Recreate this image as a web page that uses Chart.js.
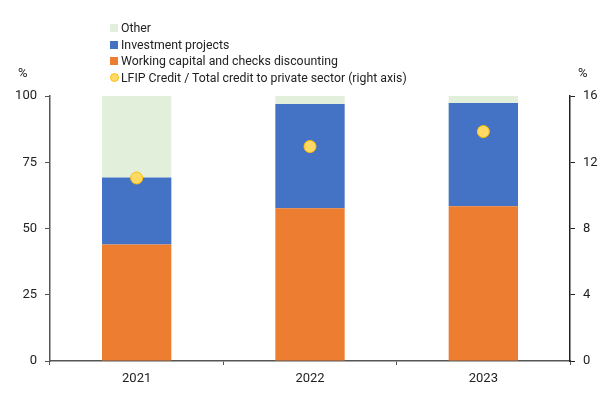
<!DOCTYPE html>
<html>
<head>
<meta charset="utf-8">
<script src="https://cdn.jsdelivr.net/npm/chart.js@4"></script>
<style>
  html, body { margin: 0; padding: 0; background: #fff; }
  #wrap { position: relative; width: 601px; height: 394px; font-family: Roboto, sans-serif; color: #222; }
  canvas { position: absolute; left: 0; top: 0; }
  .unit { position: absolute; top: 65px; font-size: 13px; }
  #legend { position: absolute; left: 110px; top: 20px; font-size: 12.3px; line-height: 16.5px; }
  #legend div { display: flex; align-items: center; white-space: nowrap; }
  #legend span.box { display: inline-block; width: 8px; height: 8px; margin-right: 3px; }
  #legend span.dot { display: inline-block; width: 9px; height: 9px; border-radius: 50%; margin-right: 2px; box-sizing: border-box; border: 1px solid #ffc000; }
</style>
</head>
<body>
<div id="wrap">
  <canvas id="chart" width="601" height="394"></canvas>
  <div id="legend"></div>
  <div class="unit" style="left:18px">%</div>
  <div class="unit" style="left:578px">%</div>
</div>
<script>
const years = ["2021", "2022", "2023"];
const workingCapital = [44, 57.6, 58.4];
const investment = [25.2, 39.4, 39.0];
const other = [30.8, 3.0, 2.6];
const lfipShare = [11.05, 12.95, 13.85];
const leftTicks = [0, 25, 50, 75, 100];
const rightTicks = [0, 4, 8, 12, 16];

const colors = {
  other: "#e2efda",
  invest: "#4472c4",
  work: "#ed7d31",
  dot: "#ffd966",
  dotBorder: "#ffc000",
};

const legendItems = [
  { label: "Other", color: colors.other },
  { label: "Investment projects", color: colors.invest },
  { label: "Working capital and checks discounting", color: colors.work },
  { label: "LFIP Credit / Total credit to private sector (right axis)", color: colors.dot, dot: true },
];
const legend = document.getElementById("legend");
legendItems.forEach((it) => {
  const row = document.createElement("div");
  const b = document.createElement("span");
  b.className = it.dot ? "dot" : "box";
  b.style.background = it.color;
  row.appendChild(b);
  row.appendChild(document.createTextNode(it.label));
  legend.appendChild(row);
});

const axisColor = "#555";
const tickFont = { family: "Roboto, sans-serif", size: 13 };

const ctx = document.getElementById("chart").getContext("2d");
new Chart(ctx, {
  type: "bar",
  data: {
    labels: years,
    datasets: [
      { type: "line", label: "LFIP Credit / Total credit to private sector (right axis)", data: lfipShare, yAxisID: "y1",
        showLine: false, pointRadius: 6, pointBackgroundColor: colors.dot, pointBorderColor: colors.dotBorder,
        pointBorderWidth: 1, order: 0 },
      { label: "Working capital and checks discounting", data: workingCapital, backgroundColor: colors.work, yAxisID: "y", order: 1 },
      { label: "Investment projects", data: investment, backgroundColor: colors.invest, yAxisID: "y", order: 1 },
      { label: "Other", data: other, backgroundColor: colors.other, yAxisID: "y", order: 1 },
    ],
  },
  options: {
    responsive: false,
    animation: false,
    layout: { padding: { top: 96, left: 0, right: 0, bottom: 0 } },
    datasets: { bar: { barPercentage: 0.4, categoryPercentage: 1 } },
    plugins: { legend: { display: false }, tooltip: { enabled: false } },
    scales: {
      x: {
        stacked: true,
        offset: true,
        grid: { display: true, offset: true, drawOnChartArea: false, drawTicks: true, tickLength: 4, color: axisColor },
        border: { display: true, color: axisColor, width: 1.5 },
        ticks: { color: "#222", font: tickFont, padding: 6 },
        afterFit: (s) => { s.height = 33; },
      },
      y: {
        stacked: true,
        position: "left",
        min: 0, max: 100,
        afterBuildTicks: (s) => { s.ticks = leftTicks.map((v) => ({ value: v })); },
        grid: { display: true, drawOnChartArea: false, drawTicks: true, tickLength: 5, color: axisColor },
        border: { display: true, color: axisColor, width: 1.5 },
        ticks: { color: "#222", font: tickFont, padding: 8 },
        afterFit: (s) => { s.width = 50; },
      },
      y1: {
        position: "right",
        min: 0, max: 16,
        afterBuildTicks: (s) => { s.ticks = rightTicks.map((v) => ({ value: v })); },
        grid: { display: true, drawOnChartArea: false, drawTicks: true, tickLength: 5, color: "#222" },
        border: { display: true, color: "#222", width: 1.5 },
        ticks: { color: "#222", font: tickFont, padding: 8 },
        afterFit: (s) => { s.width = 31; },
      },
    },
  },
});
</script>
</body>
</html>
